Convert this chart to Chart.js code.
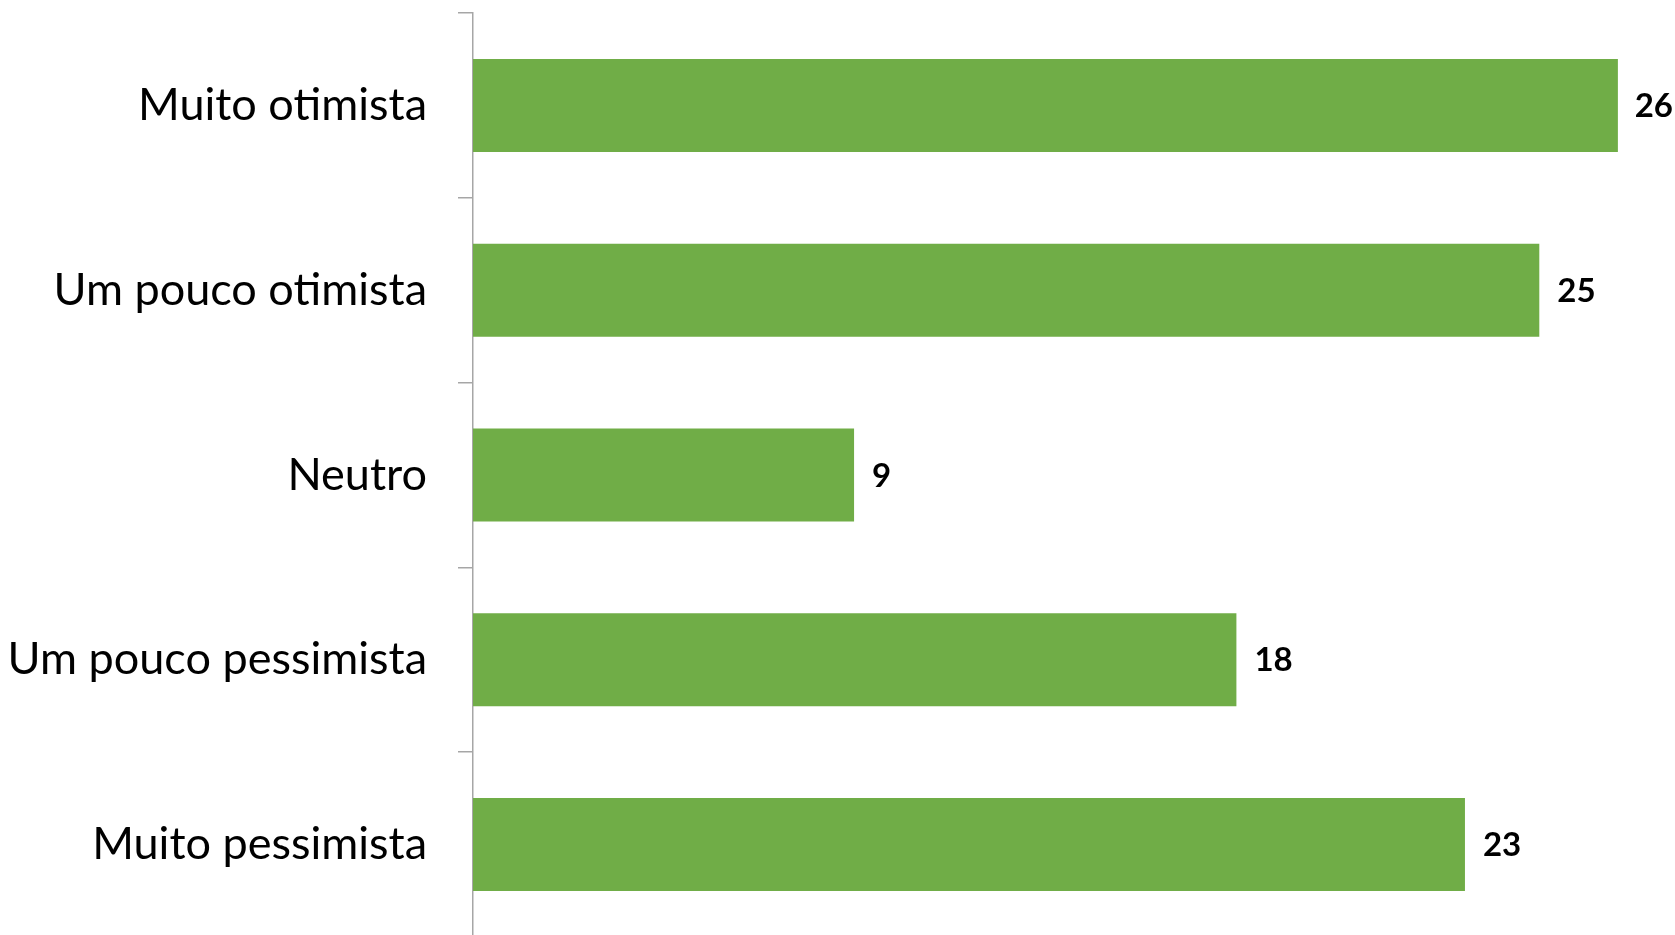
<!DOCTYPE html>
<html>
<head>
<meta charset="utf-8">
<script src="https://cdn.jsdelivr.net/npm/chart.js@4.4.0/dist/chart.umd.min.js"></script>
<style>
  html, body { margin: 0; padding: 0; background: #fff; overflow: hidden; }
  #wrap { width: 1675px; height: 940px; position: relative; }
</style>
</head>
<body>
<div id="wrap"><canvas id="c" width="1675" height="940"></canvas></div>
<script>
const categories = ["Muito otimista", "Um pouco otimista", "Neutro", "Um pouco pessimista", "Muito pessimista"];
const values = [26.95, 25.1, 8.97, 17.97, 23.35];
const valueLabels = ["26", "25", "9", "18", "23"];
const barColor = "#70AD47";
const axisColor = "#a6a6a6";

const valueLabelPlugin = {
  id: "valueLabels",
  afterDatasetsDraw(chart) {
    const ctx = chart.ctx;
    const meta = chart.getDatasetMeta(0);
    ctx.save();
    ctx.font = "bold 33px Lato, 'Open Sans', sans-serif";
    ctx.fillStyle = "#000";
    ctx.textBaseline = "middle";
    ctx.textAlign = "left";
    meta.data.forEach((bar, i) => {
      const txt = valueLabels[i];
      const w = ctx.measureText(txt).width;
      let x = bar.x + 18;
      const maxX = chart.width - w - 2;
      if (x > maxX) x = maxX;
      ctx.fillText(txt, x, bar.y + 1);
    });
    ctx.restore();
  }
};

new Chart(document.getElementById("c"), {
  type: "bar",
  data: {
    labels: categories,
    datasets: [{
      data: values,
      backgroundColor: barColor,
      borderWidth: 0,
      categoryPercentage: 1.0,
      barPercentage: 0.503
    }]
  },
  options: {
    indexAxis: "y",
    responsive: false,
    animation: false,
    devicePixelRatio: 1,
    layout: { padding: { top: 13, right: 12.5, bottom: 3, left: 0 } },
    plugins: { legend: { display: false }, tooltip: { enabled: false } },
    scales: {
      x: {
        display: false,
        min: 0,
        max: 28
      },
      y: {
        afterFit(scale) {
          scale.width = 473;
          scale.paddingTop = 0;
          scale.paddingBottom = 0;
        },
        border: { display: true, color: axisColor, width: 1.5 },
        grid: {
          display: true,
          drawOnChartArea: false,
          drawTicks: true,
          tickLength: 15,
          color: axisColor,
          lineWidth: 1.5,
          offset: true
        },
        ticks: {
          color: "#000",
          padding: 31,
          font: { family: "Lato, 'Open Sans', sans-serif", size: 45 }
        }
      }
    }
  },
  plugins: [valueLabelPlugin]
});
</script>
</body>
</html>
